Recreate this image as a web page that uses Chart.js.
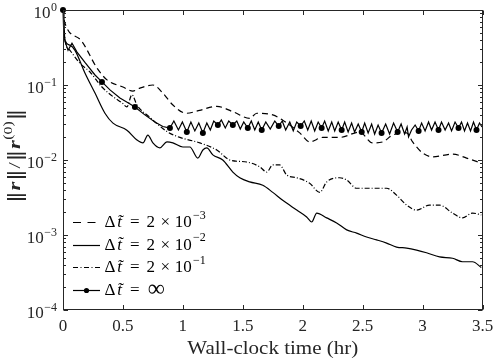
<!DOCTYPE html>
<html><head><meta charset="utf-8">
<script src="https://cdn.jsdelivr.net/npm/chart.js@4.4.0/dist/chart.umd.min.js"></script>
<style>html,body{margin:0;padding:0;background:#fff}#wrap{width:498px;height:359px}</style>
</head><body><div id="wrap"><canvas id="c" width="498" height="359"></canvas></div>
<script>
// ---- data ----
// series: dt = 2e-3 (dashed)
const tA=[0,0.01,0.14,0.287,0.367,0.5,0.583,0.642,0.75,0.833,0.917,1.03,1.14,1.283,1.417,1.558,1.617,1.75,1.833,1.975,2.058,2.167,2.308,2.475,2.583,2.667,2.75,2.867,2.917,3.0,3.083,3.25,3.367,3.49];
const rA=[1,0.72,0.41,0.165,0.117,0.094,0.083,0.091,0.1,0.078,0.054,0.042,0.046,0.052,0.044,0.036,0.042,0.040,0.034,0.023,0.0174,0.020,0.020,0.0236,0.0169,0.0174,0.0215,0.023,0.0174,0.0124,0.011,0.012,0.0106,0.0091];
// series: dt = 2e-2 (solid)
const tB=[0,0.017,0.058,0.1,0.183,0.267,0.35,0.417,0.533,0.617,0.667,0.708,0.75,0.808,0.867,0.917,1.0,1.058,1.125,1.167,1.2,1.25,1.333,1.417,1.475,1.558,1.667,1.75,1.833,1.95,2.033,2.075,2.117,2.2,2.283,2.367,2.45,2.533,2.617,2.7,2.783,2.867,2.95,3.033,3.142,3.25,3.333,3.417,3.49];
const rB=[1,0.4,0.34,0.29,0.145,0.078,0.042,0.031,0.025,0.0185,0.0169,0.0215,0.0169,0.0145,0.0174,0.0169,0.0149,0.0149,0.0106,0.0136,0.0145,0.0117,0.01,0.0069,0.0058,0.0051,0.0046,0.0037,0.0029,0.00215,0.00174,0.00149,0.00196,0.00169,0.00145,0.00117,0.00106,0.00094,0.00086,0.00078,0.00069,0.00067,0.00063,0.00058,0.00051,0.00049,0.00044,0.00044,0.00037];
// series: dt = 2e-1 (dash-dot)
const tC=[0,0.017,0.058,0.14,0.225,0.325,0.433,0.492,0.533,0.575,0.617,0.725,0.867,0.975,1.142,1.283,1.392,1.533,1.642,1.7,1.75,1.808,1.867,1.95,2.058,2.142,2.2,2.308,2.367,2.45,2.583,2.7,2.783,2.867,2.95,3.058,3.142,3.25,3.333,3.417,3.49];
const rC=[1,0.4,0.29,0.196,0.149,0.094,0.067,0.058,0.051,0.074,0.054,0.037,0.024,0.020,0.0169,0.0136,0.01,0.0094,0.0081,0.0069,0.0086,0.0086,0.0063,0.0058,0.0049,0.0037,0.0051,0.0058,0.0054,0.0042,0.0042,0.0042,0.0034,0.0025,0.00215,0.0025,0.0025,0.00196,0.00169,0.00196,0.00185];
// series: dt = infinity (solid with markers)
const tD=[0,0.008,0.042,0.075,0.117,0.183,0.267,0.325,0.392,0.475,0.542,0.6,0.683,0.767,0.833,
0.892,0.925,0.963,0.996,1.033,1.067,1.1,1.133,1.167,1.2,1.229,1.258,1.292,1.321,1.354,1.383,1.417,1.45,1.479,1.508,1.542,1.571,1.6,1.629,1.658,1.692,1.729,1.767,1.8,1.829,1.858,1.892,1.921,1.95,1.983,2.013,2.042,2.071,2.1,2.129,2.158,2.183,2.213,2.242,2.267,2.296,2.325,2.35,2.379,2.408,2.433,2.463,2.492,2.517,2.546,2.575,2.6,2.629,2.658,2.692,2.725,2.758,2.792,2.821,2.85,2.871,2.883,2.908,2.938,2.967,2.992,3.021,3.05,3.075,3.104,3.133,3.158,3.188,3.217,3.242,3.271,3.3,3.325,3.35,3.375,3.4,3.425,3.45,3.475,3.496];
const rD=[1,0.42,0.29,0.36,0.275,0.2,0.136,0.11,0.086,0.067,0.058,0.051,0.04,0.032,0.028,
0.0267,0.0331,0.0251,0.0321,0.0236,0.0321,0.0244,0.0311,0.0229,0.0311,0.0251,0.0331,0.0293,0.0341,0.0267,0.0331,0.0293,0.0331,0.0259,0.0321,0.0267,0.0331,0.0251,0.0321,0.0251,0.0321,0.0259,0.0331,0.0284,0.0331,0.0251,0.0321,0.0244,0.0321,0.0284,0.0331,0.0251,0.0331,0.0244,0.0321,0.0267,0.0331,0.0244,0.0321,0.0244,0.0321,0.0251,0.0321,0.0236,0.0311,0.0236,0.0302,0.0236,0.0311,0.0229,0.0302,0.0222,0.0293,0.0229,0.0302,0.0222,0.0311,0.0236,0.0302,0.0222,0.0275,0.0203,0.0251,0.0293,0.0244,0.0311,0.0244,0.0321,0.0251,0.0321,0.0251,0.0321,0.0251,0.0311,0.0244,0.0321,0.0267,0.0321,0.0244,0.0311,0.0244,0.0321,0.0251,0.0311,0.0275];
const infMarkT=[0,0.325,0.6,0.892,1.033,1.167,1.292,1.417,1.542,1.658,1.8,1.983,2.158,2.325,2.492,2.658,2.792,2.967,3.133,3.3,3.45];

const xTicks=[0,0.5,1,1.5,2,2.5,3,3.5];
const xTickLabels=['0','0.5','1','1.5','2','2.5','3','3.5'];
const yTicks=[1,0.1,0.01,0.001,0.0001];
const yTickExp=['0','\u22121','\u22122','\u22123','\u22124'];
const legendExp=['\u22123','\u22122','\u22121',null];
const xTitle='Wall-clock time (hr)';

// ---- styling ----
const AX='#262626';
const SERIF='"Liberation Serif","Times New Roman",serif';
const BAR='"DejaVu Serif",serif';
const DASHES=[[6,4],[],[5,2,1,2],[]];
const LW=1.2;

function pts(t,r){return t.map((x,i)=>({x:x,y:r[i]}));}

const decor={
  id:'decor',
  afterDraw(chart){
    const ctx=chart.ctx, ca=chart.chartArea, xs=chart.scales.x, ys=chart.scales.y;
    ctx.save();
    ctx.strokeStyle=AX; ctx.lineWidth=1; ctx.setLineDash([]);
    const L=Math.round(ca.left)+0.5, R=Math.round(ca.right)-0.5, T=Math.round(ca.top)+0.5, B=Math.round(ca.bottom)-0.5;
    ctx.strokeRect(L,T,R-L,B-T);
    ctx.beginPath();
    xTicks.forEach(v=>{const p=Math.round(xs.getPixelForValue(v))+0.5; ctx.moveTo(p,B); ctx.lineTo(p,B-4.5); ctx.moveTo(p,T); ctx.lineTo(p,T+4.5);});
    yTicks.forEach(v=>{const p=Math.round(ys.getPixelForValue(v))+0.5; ctx.moveTo(L,p); ctx.lineTo(L+4.5,p); ctx.moveTo(R,p); ctx.lineTo(R-4.5,p);
      if(v<1){for(let m=2;m<=9;m++){const q=Math.round(ys.getPixelForValue(v*m))+0.5; ctx.moveTo(L,q); ctx.lineTo(L+2.5,q); ctx.moveTo(R,q); ctx.lineTo(R-2.5,q);}}});
    ctx.stroke();
    // x tick labels
    ctx.fillStyle=AX; ctx.textAlign='center'; ctx.textBaseline='alphabetic';
    ctx.font='17px '+SERIF;
    xTicks.forEach((v,i)=>{ctx.fillText(xTickLabels[i], xs.getPixelForValue(v), 330.5);});
    // y tick labels 10^n
    yTicks.forEach((v,i)=>{
      const p=ys.getPixelForValue(v);
      ctx.font='17px '+SERIF; const w1=ctx.measureText('10').width;
      ctx.font='12px '+SERIF; const w2=ctx.measureText(yTickExp[i]).width;
      const x0=57-w1-w2-0.5;
      ctx.textAlign='left';
      ctx.font='17px '+SERIF; ctx.fillText('10',x0,p+8);
      ctx.font='12px '+SERIF; ctx.fillText(yTickExp[i],x0+w1+0.5,p+0.5);
    });
    // x title
    ctx.font='19px '+SERIF; ctx.textAlign='left';
    const wt=ctx.measureText(xTitle).width, tw=171;
    ctx.save(); ctx.translate(272.75-tw/2,353.5); ctx.scale(tw/wt,1); ctx.fillText(xTitle,0,0); ctx.restore();
    // y title ||r||/||r^(0)||
    const segs=[['\u2016','18px '+BAR,1],['r','italic bold 17px '+SERIF,0],['\u2016','18px '+BAR,1],['/','17px '+SERIF,0],['\u2016','18px '+BAR,1],['r','italic bold 17px '+SERIF,0],['(0)','12px '+SERIF,-8],['\u2016','18px '+BAR,1]];
    let W=0; segs.forEach(s=>{ctx.font=s[1]; s.push(ctx.measureText(s[0]).width); W+=s[3]+0.5;});
    const TW=95;
    ctx.save(); ctx.translate(19.5,155.5); ctx.rotate(-Math.PI/2); ctx.scale(TW/W,1);
    let cx=-W/2; segs.forEach(s=>{ctx.font=s[1]; ctx.fillText(s[0],cx,s[2]); cx+=s[3]+0.5;});
    ctx.restore();
    // legend
    const baseY=[227,249.5,272,295];
    baseY.forEach((by,i)=>{
      const ly=Math.round(by-5)+0.5;
      ctx.strokeStyle='#000'; ctx.lineWidth=LW;
      ctx.setLineDash(i===0?[8,6.5]:(i===2?[5,2.5,1,2.5]:[]));
      ctx.beginPath(); ctx.moveTo(73,ly); ctx.lineTo(100,ly); ctx.stroke();
      ctx.setLineDash([]);
      if(i===3){ctx.fillStyle='#000'; ctx.beginPath(); ctx.arc(86.5,ly,2.6,0,Math.PI*2); ctx.fill();}
      ctx.fillStyle='#000'; ctx.textAlign='center';
      ctx.font='17px '+SERIF; ctx.fillText('\u0394',110,by);
      ctx.font='italic 17px '+SERIF; ctx.fillText('t\u0303',119.5,by);
      ctx.font='17px '+SERIF; ctx.fillText('=',134.7,by);
      if(legendExp[i]){
        ctx.fillText('2',150.8,by);
        ctx.fillText('\u00D7',165.3,by);
        ctx.fillText('10',183.3,by);
        ctx.font='12px '+SERIF; ctx.textAlign='left'; ctx.fillText(legendExp[i],193,by-8.5);
      } else {
        ctx.font='24px '+SERIF; ctx.fillText('\u221E',156.3,by+1);
      }
    });
    ctx.restore();
  }
};

new Chart(document.getElementById('c'),{
  type:'scatter',
  data:{datasets:[
    {label:'dt=2e-3',data:pts(tA,rA),showLine:true,borderColor:'#000',borderWidth:LW,borderDash:DASHES[0],pointRadius:0,cubicInterpolationMode:'monotone'},
    {label:'dt=2e-2',data:pts(tB,rB),showLine:true,borderColor:'#000',borderWidth:LW,borderDash:DASHES[1],pointRadius:0,cubicInterpolationMode:'monotone'},
    {label:'dt=2e-1',data:pts(tC,rC),showLine:true,borderColor:'#000',borderWidth:LW,borderDash:DASHES[2],pointRadius:0,cubicInterpolationMode:'monotone'},
    {label:'dt=inf',data:pts(tD,rD),showLine:true,borderColor:'#000',borderWidth:LW,borderDash:DASHES[3],tension:0,clip:false,
      pointRadius:(c)=> (c.raw && infMarkT.includes(c.raw.x)) ? 3 : 0,
      pointHoverRadius:(c)=> (c.raw && infMarkT.includes(c.raw.x)) ? 3 : 0,
      pointBackgroundColor:'#000',pointBorderWidth:0}
  ]},
  options:{
    responsive:false,animation:false,devicePixelRatio:1,
    layout:{padding:{left:63,right:15.5,top:10,bottom:49}},
    scales:{
      x:{type:'linear',min:0,max:3.5,display:false},
      y:{type:'logarithmic',min:0.0001,max:1,display:false}
    },
    plugins:{legend:{display:false},tooltip:{enabled:false}}
  },
  plugins:[decor]
});
</script>
</body></html>
